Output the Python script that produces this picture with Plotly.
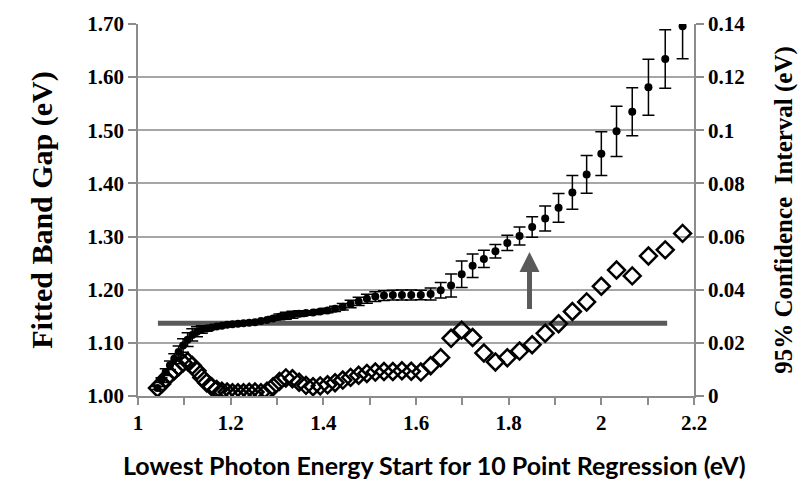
import plotly.graph_objects as go

# Lowest photon energy start (eV) for each 10-point regression
energy = [2.1754, 2.1379, 2.1017, 2.0667, 2.0328, 2.0000, 1.9683, 1.9375, 1.9077, 1.8788,
          1.8507, 1.8235, 1.7971, 1.7714, 1.7465, 1.7222, 1.6986, 1.6757, 1.6533, 1.6316,
          1.6104, 1.5897, 1.5696, 1.5500, 1.5309, 1.5122, 1.4940, 1.4762, 1.4588, 1.4419,
          1.4253, 1.4091, 1.3933, 1.3778, 1.3626, 1.3478, 1.3333, 1.3191, 1.3053, 1.2917,
          1.2784, 1.2653, 1.2525, 1.2400, 1.2277, 1.2157, 1.2039, 1.1923, 1.1810, 1.1698,
          1.1589, 1.1481, 1.1376, 1.1273, 1.1171, 1.1071, 1.0973, 1.0877, 1.0783, 1.0690,
          1.0598, 1.0508, 1.0420]

# Fitted band gap (eV), left axis
band_gap = [1.696, 1.634, 1.581, 1.535, 1.498, 1.456, 1.417, 1.383, 1.354, 1.334,
            1.318, 1.301, 1.288, 1.2725, 1.258, 1.245, 1.229, 1.208, 1.199, 1.192,
            1.190, 1.190, 1.190, 1.190, 1.189, 1.187, 1.183, 1.178, 1.173, 1.168,
            1.164, 1.161, 1.159, 1.157, 1.156, 1.155, 1.153, 1.151, 1.149, 1.146,
            1.143, 1.141, 1.139, 1.138, 1.137, 1.136, 1.135, 1.134, 1.132, 1.131,
            1.129, 1.127, 1.125, 1.121, 1.115, 1.106, 1.095, 1.083, 1.070, 1.058,
            1.045, 1.030, 1.015]

# 95% confidence interval (eV), right axis (also the error bars)
conf_int = [0.0612, 0.0550, 0.0527, 0.0452, 0.0474, 0.0413, 0.0354, 0.0318, 0.0272, 0.0236,
            0.0193, 0.0169, 0.0144, 0.0128, 0.0162, 0.0220, 0.0248, 0.0217, 0.0144, 0.0114,
            0.0090, 0.0093, 0.0095, 0.0092, 0.0092, 0.0090, 0.0085, 0.0078, 0.0070, 0.0060,
            0.0050, 0.0042, 0.0038, 0.0035, 0.0040, 0.0052, 0.0065, 0.0068, 0.0055, 0.0035,
            0.0018, 0.0012, 0.0015, 0.0014, 0.0012, 0.0012, 0.0012, 0.0015, 0.0018, 0.0025,
            0.0035, 0.0050, 0.0070, 0.0095, 0.0115, 0.0130, 0.0125, 0.0110, 0.0095, 0.0080,
            0.0065, 0.0045, 0.0030]

# Reference level line and arrow (data coordinates)
level_x = [1.043, 2.142]
level_y = [1.137, 1.137]
arrow_x = 1.845
arrow_y = [1.161, 1.271]

x_ticks = [1, 1.2, 1.4, 1.6, 1.8, 2, 2.2]
x_tick_text = ["1", "1.2", "1.4", "1.6", "1.8", "2", "2.2"]

x_title = "Lowest Photon Energy Start for 10 Point Regression (eV)"

gray = "#5a5a5a"
axis_gray = "#8c8c8c"
serif = "Liberation Serif"

fig = go.Figure()

fig.add_trace(go.Scatter(
    x=level_x, y=level_y, mode="lines",
    line=dict(color=gray, width=5), showlegend=False, hoverinfo="skip"))

fig.add_trace(go.Scatter(
    x=energy, y=band_gap, mode="markers",
    marker=dict(color="black", size=8),
    error_y=dict(type="data", array=conf_int, color="black", thickness=1.5, width=6),
    showlegend=False))

fig.add_trace(go.Scatter(
    x=energy, y=conf_int, mode="markers", yaxis="y2",
    marker=dict(symbol="diamond-open", size=13, color="black",
                line=dict(width=2.5, color="black")),
    showlegend=False))

fig.add_annotation(
    x=arrow_x, y=arrow_y[1], ax=arrow_x, ay=arrow_y[0],
    xref="x", yref="y", axref="x", ayref="y",
    showarrow=True, arrowhead=2, arrowsize=0.8, arrowwidth=5,
    arrowcolor=gray, text="")

fig.add_annotation(
    text=x_title, xref="paper", yref="paper", x=0.534, y=-0.186,
    xanchor="center", yanchor="middle", showarrow=False,
    font=dict(family="Lato", size=25, color="black", weight="bold"))

fig.update_layout(
    width=810, height=488,
    margin=dict(l=138, r=116, t=14, b=92),
    paper_bgcolor="white", plot_bgcolor="white",
    xaxis=dict(
        range=[1, 2.2], tickvals=x_ticks, ticktext=x_tick_text,
        ticks="outside", ticklen=7, tickcolor=axis_gray, tickwidth=1.5,
        minor=dict(ticks="outside", dtick=0.1, tick0=1, ticklen=7,
                   tickcolor=axis_gray, tickwidth=1.5, showgrid=False),
        showline=True, linecolor=axis_gray, linewidth=1.5,
        showgrid=False, zeroline=False,
        tickfont=dict(family=serif, size=21, color="black", weight="bold"),
    ),
    yaxis=dict(
        range=[1.0, 1.70], dtick=0.1, tick0=1.0, tickformat=".2f",
        ticks="outside", ticklen=8, tickcolor=axis_gray, tickwidth=1.5,
        showline=True, linecolor=axis_gray, linewidth=1.5,
        showgrid=True, gridcolor="#a6a6a6", gridwidth=1.5, zeroline=False,
        tickfont=dict(family=serif, size=21, color="black", weight="bold"),
        title=dict(text="Fitted Band Gap (eV)",
                   font=dict(family=serif, size=30, color="black", weight="bold"),
                   standoff=26),
    ),
    yaxis2=dict(
        range=[0, 0.14], dtick=0.02, tick0=0, overlaying="y", side="right",
        ticks="outside", ticklen=8, tickcolor=axis_gray, tickwidth=1.5,
        showline=True, linecolor=axis_gray, linewidth=1.5,
        showgrid=False, zeroline=False,
        tickfont=dict(family=serif, size=21, color="black", weight="bold"),
        title=dict(text="95% Confidence  Interval (eV)",
                   font=dict(family=serif, size=25, color="black", weight="bold"),
                   standoff=30),
    ),
)

fig.write_html("out.html")
